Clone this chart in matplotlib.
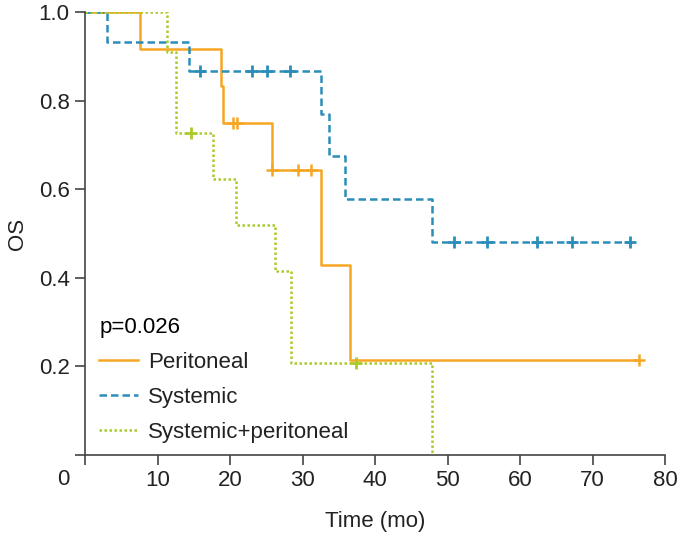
import matplotlib.pyplot as plt

# Kaplan-Meier step data (time in months, survival)
peri_t = [0, 7.6, 18.8, 19.0, 25.8, 32.6, 36.6, 76.4]
peri_s = [1.0, 0.917, 0.833, 0.75, 0.643, 0.429, 0.214, 0.214]
peri_cens_t = [20.4, 20.9, 25.8, 29.4, 31.1, 76.4]
peri_cens_s = [0.75, 0.75, 0.643, 0.643, 0.643, 0.214]

sys_t = [0, 3.0, 14.4, 32.6, 33.6, 35.9, 47.9, 75.2]
sys_s = [1.0, 0.933, 0.867, 0.770, 0.675, 0.578, 0.481, 0.481]
sys_cens_t = [15.8, 23.0, 25.1, 28.2, 50.9, 55.5, 62.3, 67.2, 75.2]
sys_cens_s = [0.867, 0.867, 0.867, 0.867, 0.481, 0.481, 0.481, 0.481, 0.481]

sp_t = [0, 11.3, 12.5, 17.7, 20.8, 26.2, 28.4, 47.8]
sp_s = [1.0, 0.909, 0.727, 0.622, 0.519, 0.415, 0.207, 0.0]
sp_cens_t = [14.6, 37.4]
sp_cens_s = [0.727, 0.207]

orange = '#F5A623'
blue = '#2B8DBA'
green = '#A9CB2A'
axcol = '#444444'
txtcol = '#222222'

plt.rcParams['font.family'] = ['Liberation Sans', 'DejaVu Sans']

fig = plt.figure(figsize=(6.78, 5.36), dpi=100)
ax = fig.add_axes([0.1254, 0.151, 0.981 - 0.1254, 0.9776 - 0.151])

ax.step(peri_t, peri_s, where='post', color=orange, lw=1.8, label='Peritoneal')
ax.step(sys_t, sys_s, where='post', color=blue, lw=1.8, ls=(0, (3, 1.6)), label='Systemic')
ax.step(sp_t, sp_s, where='post', color=green, lw=1.8, ls=(0, (1, 1)), label='Systemic+peritoneal')

ax.plot(peri_cens_t, peri_cens_s, ls='none', marker='|', ms=9, mew=1.8, color=orange)
ax.plot(peri_cens_t, peri_cens_s, ls='none', marker='_', ms=9, mew=1.8, color=orange)
ax.plot(sys_cens_t, sys_cens_s, ls='none', marker='+', ms=9, mew=2, color=blue)
ax.plot(sp_cens_t, sp_cens_s, ls='none', marker='+', ms=9, mew=2, color=green)

ax.set_xlim(0, 80)
ax.set_ylim(0, 1.0)
ax.set_xticks(range(0, 81, 10))
ax.set_xticklabels([''] + [str(v) for v in range(10, 81, 10)])
ax.set_yticks([0, 0.2, 0.4, 0.6, 0.8, 1.0])
ax.set_yticklabels(['', '0.2', '0.4', '0.6', '0.8', '1.0'])
ax.text(-3, -0.055, '0', ha='center', va='center', fontsize=16, color=txtcol,
        transform=ax.transData, clip_on=False)

for s in ['top', 'right']:
    ax.spines[s].set_visible(False)
for s in ['left', 'bottom']:
    ax.spines[s].set_color(axcol)
    ax.spines[s].set_linewidth(1.2)
ax.tick_params(direction='out', length=7, width=1.2, color=axcol,
               labelsize=16, labelcolor=txtcol, pad=4)

ax.set_xlabel('Time (mo)', fontsize=16, color=txtcol, labelpad=14)
ax.set_ylabel('OS', fontsize=16, color=txtcol, labelpad=8)

leg = ax.legend(title='p=0.026', loc='lower left', bbox_to_anchor=(-0.006, -0.012),
                frameon=False, fontsize=16, title_fontsize=16, alignment='left',
                handlelength=1.75, handletextpad=0.45, labelspacing=0.62,
                borderaxespad=0.4)
for t in leg.get_texts():
    t.set_color(txtcol)

fig.savefig('out.png', dpi=100)
